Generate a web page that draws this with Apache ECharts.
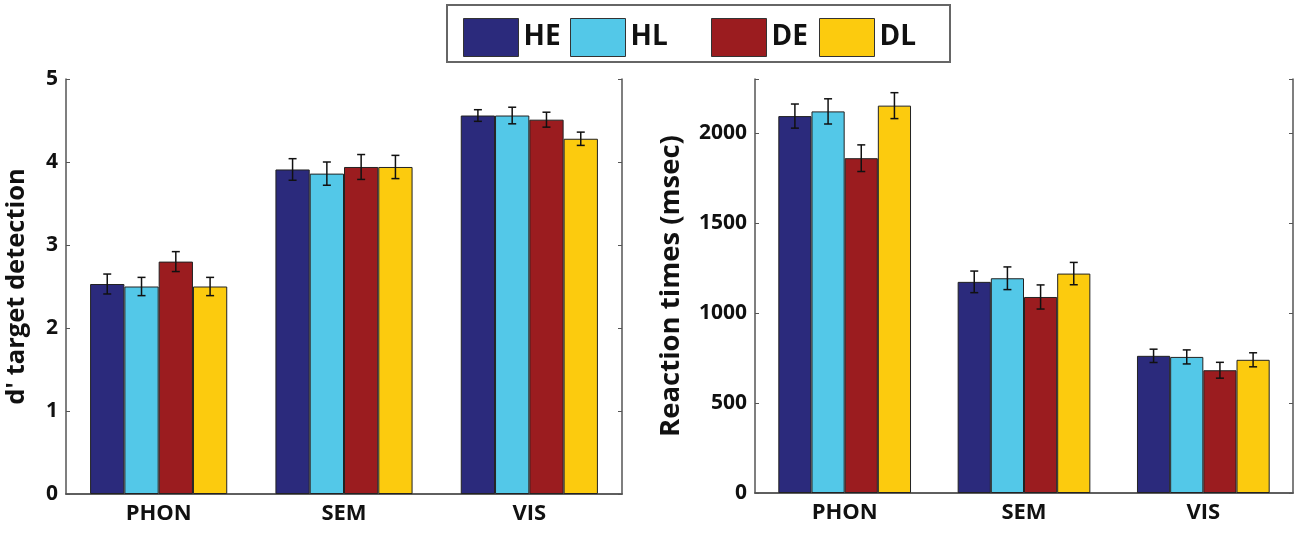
<!DOCTYPE html>
<html>
<head>
<meta charset="utf-8">
<script src="https://cdn.jsdelivr.net/npm/echarts@6/dist/echarts.min.js"></script>
<style>html,body{margin:0;padding:0;background:#fff}#c{width:1300px;height:537px}</style>
</head>
<body>
<div id="c"></div>
<script>
// ---- data ----
const categories = ['PHON', 'SEM', 'VIS'];
const groupNames = ['HE', 'HL', 'DE', 'DL'];
const groupColors = ['#2b2a7c', '#53c8e8', '#9b1c1f', '#fccb0e'];

// d' target detection (left panel)
const dpHE = [2.53, 3.91, 4.56];
const dpHL = [2.50, 3.86, 4.56];
const dpDE = [2.80, 3.94, 4.51];
const dpDL = [2.50, 3.94, 4.28];
const dpErrHE = [0.12, 0.13, 0.07];
const dpErrHL = [0.11, 0.14, 0.10];
const dpErrDE = [0.12, 0.15, 0.09];
const dpErrDL = [0.11, 0.14, 0.08];

// Reaction times in msec (right panel)
const rtHE = [2094, 1173, 762];
const rtHL = [2120, 1193, 756];
const rtDE = [1860, 1089, 682];
const rtDL = [2152, 1219, 740];
const rtErrHE = [67, 60, 37];
const rtErrHL = [70, 63, 39];
const rtErrDE = [74, 67, 44];
const rtErrDL = [72, 62, 39];

const dpTicks = [0, 1, 2, 3, 4, 5];
const rtTicks = [0, 500, 1000, 1500, 2000];

// ---- build ----
const FONT = 'Open Sans';
const dpVals = [dpHE, dpHL, dpDE, dpDL];
const dpErrs = [dpErrHE, dpErrHL, dpErrDE, dpErrDL];
const rtVals = [rtHE, rtHL, rtDE, rtDL];
const rtErrs = [rtErrHE, rtErrHL, rtErrDE, rtErrDL];
const GROUP_FRAC = 0.74;
const axisCol = '#555';

function makeErr(j) {
  return function (params, api) {
    const i = api.value(0), v = api.value(1), e = api.value(2);
    const band = api.size([1, 0])[0];
    const bw = band * GROUP_FRAC / 4;
    const cx = api.coord([i, v])[0] + (j - 1.5) * bw;
    const yT = api.coord([i, v + e])[1];
    const yB = api.coord([i, v - e])[1];
    const cap = 4;
    const st = { stroke: '#111', lineWidth: 1.5 };
    return {
      type: 'group',
      children: [
        { type: 'line', shape: { x1: cx, y1: yT, x2: cx, y2: yB }, style: st },
        { type: 'line', shape: { x1: cx - cap, y1: yT, x2: cx + cap, y2: yT }, style: st },
        { type: 'line', shape: { x1: cx - cap, y1: yB, x2: cx + cap, y2: yB }, style: st }
      ]
    };
  };
}

const series = [];
[[dpVals, dpErrs, 0], [rtVals, rtErrs, 1]].forEach(([vals, errs, g]) => {
  groupNames.forEach((n, j) => {
    series.push({
      type: 'bar', name: n, xAxisIndex: g * 2, yAxisIndex: g * 2,
      data: vals[j], barGap: '0%', barCategoryGap: ((1 - GROUP_FRAC) * 100) + '%',
      itemStyle: { color: groupColors[j], borderColor: '#222', borderWidth: 1 },
      emphasis: { disabled: true }, animation: false
    });
  });
  groupNames.forEach((n, j) => {
    series.push({
      type: 'custom', name: 'err' + n + g, xAxisIndex: g * 2, yAxisIndex: g * 2,
      renderItem: makeErr(j), z: 5, animation: false,
      encode: { x: 0, y: 1 },
      data: vals[j].map((v, i) => [i, v, errs[j][i]])
    });
  });
});

function xAxes(gi) {
  return [
    { type: 'category', gridIndex: gi, data: categories, position: 'bottom',
      axisLine: { lineStyle: { color: axisCol, width: 1.5 } },
      axisTick: { show: false },
      axisLabel: { color: '#111', fontFamily: FONT, fontWeight: 'bold', fontSize: 22, margin: 9 } },
    { type: 'category', gridIndex: gi, data: categories, position: 'top',
      axisLine: { lineStyle: { color: axisCol, width: 1.5 } },
      axisTick: { inside: true, alignWithLabel: true, length: 5, lineStyle: { color: axisCol, width: 1.5 } },
      axisLabel: { show: false } }
  ];
}
function yAxes(gi, min, max, interval, ticks, name, nameGap, nameSize) {
  return [
    { type: 'value', gridIndex: gi, min: min, max: max, interval: interval, position: 'left',
      name: name, nameLocation: 'middle', nameGap: nameGap, nameRotate: 90,
      nameTextStyle: { color: '#111', fontFamily: FONT, fontWeight: 'bold', fontSize: nameSize },
      axisLine: { show: true, lineStyle: { color: axisCol, width: 1.5 } },
      axisTick: { show: true, inside: true, length: 4, lineStyle: { color: axisCol } },
      splitLine: { show: false },
      axisLabel: { color: '#111', fontFamily: FONT, fontWeight: 'bold', fontSize: 21, margin: 8,
        formatter: v => ticks.indexOf(v) >= 0 ? String(v) : '' } },
    { type: 'value', gridIndex: gi, min: min, max: max, interval: interval, position: 'right',
      axisLine: { show: true, lineStyle: { color: axisCol, width: 1.5 } },
      axisTick: { show: true, inside: true, length: 4, lineStyle: { color: axisCol } },
      splitLine: { show: false }, axisLabel: { show: false } }
  ];
}

const legendLefts = [458, 565, 706, 814];
const legends = groupNames.map((n, j) => ({
  data: [n], left: legendLefts[j], top: 13, itemWidth: 55, itemHeight: 38,
  icon: 'rect', selectedMode: false,
  itemStyle: { borderColor: '#333', borderWidth: 1 },
  textStyle: { color: '#111', fontFamily: FONT, fontWeight: 'bold', fontSize: 28, padding: [0, 0, 0, 0] }
}));

const chart = echarts.init(document.getElementById('c'), null, { renderer: 'canvas' });
chart.setOption({
  backgroundColor: '#fff',
  animation: false,
  graphic: [{ type: 'rect', shape: { x: 447, y: 5, width: 503, height: 57 },
    style: { fill: 'none', stroke: '#666', lineWidth: 2 }, z: -1 }],
  legend: legends,
  grid: [
    { left: 66, top: 79, width: 556, height: 415 },
    { left: 755, top: 79, width: 538, height: 414 }
  ],
  xAxis: [...xAxes(0), ...xAxes(1)],
  yAxis: [...yAxes(0, 0, 5, 1, dpTicks, "d' target detection", 36, 25.5),
          ...yAxes(1, 0, 2300, 500, rtTicks, 'Reaction times (msec)', 70, 27.5)],
  series: series
});
</script>
</body>
</html>
